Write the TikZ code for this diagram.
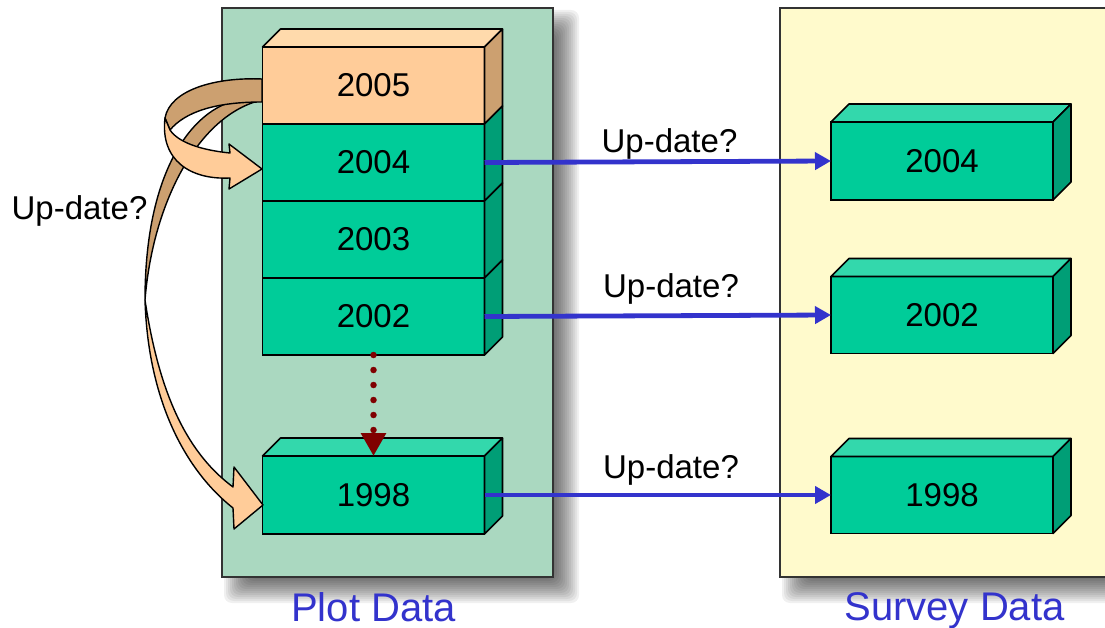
\documentclass[tikz,border=0pt]{standalone}
\usepackage{fontspec}
\setmainfont{Liberation Sans}
\usetikzlibrary{arrows.meta,positioning,calc}

\definecolor{plotgreen}{RGB}{170,216,192}
\definecolor{surveyyellow}{RGB}{255,250,204}
\definecolor{frontgreen}{RGB}{0,204,153}
\definecolor{topgreen}{RGB}{51,216,172}
\definecolor{sidegreen}{RGB}{0,158,118}
\definecolor{frontpeach}{RGB}{255,204,153}
\definecolor{toppeach}{RGB}{255,218,172}
\definecolor{sidetan}{RGB}{204,160,112}
\definecolor{upblue}{RGB}{51,51,204}
\definecolor{darkred}{RGB}{128,0,0}

% faces of a 3D slab, hung on the front node
\newcommand{\topface}[2]{%
  \draw[face, fill=#2] (#1.north west) -- ++(18,-18) -- ($(#1.north east)+(18,-18)$) -- (#1.north east) -- cycle;}
\newcommand{\sideface}[2]{%
  \draw[face, fill=#2] (#1.north east) -- ++(18,-18) -- ($(#1.south east)+(18,-18)$) -- (#1.south east) -- cycle;}

\begin{document}
\begin{tikzpicture}[x=1pt, y=-1pt]
\tikzset{
  yearbox/.style={draw, line width=1.6pt, fill=frontgreen,
    minimum width=222pt, minimum height=#1, inner sep=0pt, outer sep=0pt,
    font=\fontsize{33}{40}\selectfont},
  yearbox/.default=77pt,
  face/.style={draw, line width=1.6pt, line join=round},
  panel/.style={draw=black!80, line width=1.2pt},
  update/.style={draw=upblue, line width=4.8pt, -{Triangle[length=16pt,width=17pt]}},
  older/.style={draw=darkred, line width=6.5pt, line cap=round, dash pattern=on 0pt off 15pt,
    -{Triangle[length=23pt,width=24pt]}},
  ribbon/.style={draw, line width=1.4pt, line join=round},
  asktext/.style={anchor=base, font=\fontsize{33}{40}\selectfont},
  paneltitle/.style={anchor=base, text=upblue, font=\fontsize{40}{48}\selectfont}
}
\useasboundingbox (0,0) rectangle (1105,628);
\clip (0,0) rectangle (1105,628);

% soft shadows under the two panels
\foreach \e in {0,...,12} {
  \fill[black, opacity=0.06, rounded corners=8pt] (248-2*\e,34-2*\e) rectangle (555+2*\e,579+2*\e);
  \fill[black, opacity=0.06, rounded corners=8pt] (806-2*\e,34-2*\e) rectangle (1125+2*\e,579+2*\e);
}

% panels
\fill[plotgreen] (222,8) rectangle (553,577);
\draw[panel] (222,8) rectangle (553,577);
\fill[surveyyellow] (780,8) rectangle (1115,577);
\draw[panel] (780,8) rectangle (1115,577);

% plot data stack
\node[yearbox, fill=frontpeach] (p2005) at (373.5,85.5) {2005};
\node[yearbox, below=0pt of p2005] (p2004) {2004};
\node[yearbox, below=0pt of p2004] (p2003) {2003};
\node[yearbox, below=0pt of p2003] (p2002) {2002};
\node[yearbox=78pt] (p1998) at (373.5,495) {1998};

\topface{p2005}{toppeach}
\sideface{p2005}{sidetan}
\sideface{p2004}{sidegreen}
\sideface{p2003}{sidegreen}
\sideface{p2002}{sidegreen}
\topface{p1998}{topgreen}
\sideface{p1998}{sidegreen}

% survey data
\node[yearbox=78pt] (s2004) at (942,161) {2004};
\node[yearbox] (s2002) at (942,315) {2002};
\node[yearbox] (s1998) at (942,495) {1998};
\foreach \n in {s2004,s2002,s1998} {
  \topface{\n}{topgreen}
  \sideface{\n}{sidegreen}
}

% links
\draw[update] (p2004.east) -- (s2004.west);
\draw[update] (p2002.east) -- (s2002.west);
\draw[update] (p1998.east) -- (s1998.west);
\draw[older] (p2002.south) -- (p1998.north);

% long curved arrow 2005 -> 1998
\draw[ribbon, fill=sidetan] (240,100) .. controls (200,105) and (145,160) .. (145,300)
  .. controls (153,200) and (200,114) .. (262,100) -- cycle;
\draw[ribbon, fill=frontpeach] (145,300) .. controls (148,400) and (185,470) .. (233,508)
  -- (234,529) -- (263,505) -- (234,467) -- (233,487)
  .. controls (190,455) and (160,400) .. (145,300) -- cycle;

% short curved arrow 2005 -> 2004
\draw[ribbon, fill=sidetan] (262,79) .. controls (215,77) and (170,90) .. (165,118)
  -- (170,130) .. controls (185,112) and (215,102) .. (262,102) -- cycle;
\draw[ribbon, fill=frontpeach] (165,118) .. controls (160,160) and (190,180) .. (230,178)
  -- (229,189) -- (262,169) -- (229,144) -- (230,153)
  .. controls (200,150) and (178,142) .. (170,130) -- cycle;

% labels
\node[asktext] (ask2004) at (669.5,153) {Up-date?};
\node[asktext] (ask2002) at (671,297) {Up-date?};
\node[asktext] (ask1998) at (671,478) {Up-date?};
\node[asktext] (askplot) at (79.5,220) {Up-date?};
\node[paneltitle] (plottitle) at (373.5,621) {Plot Data};
\node[paneltitle] (surveytitle) at (954.5,620) {Survey Data};

\end{tikzpicture}
\end{document}
